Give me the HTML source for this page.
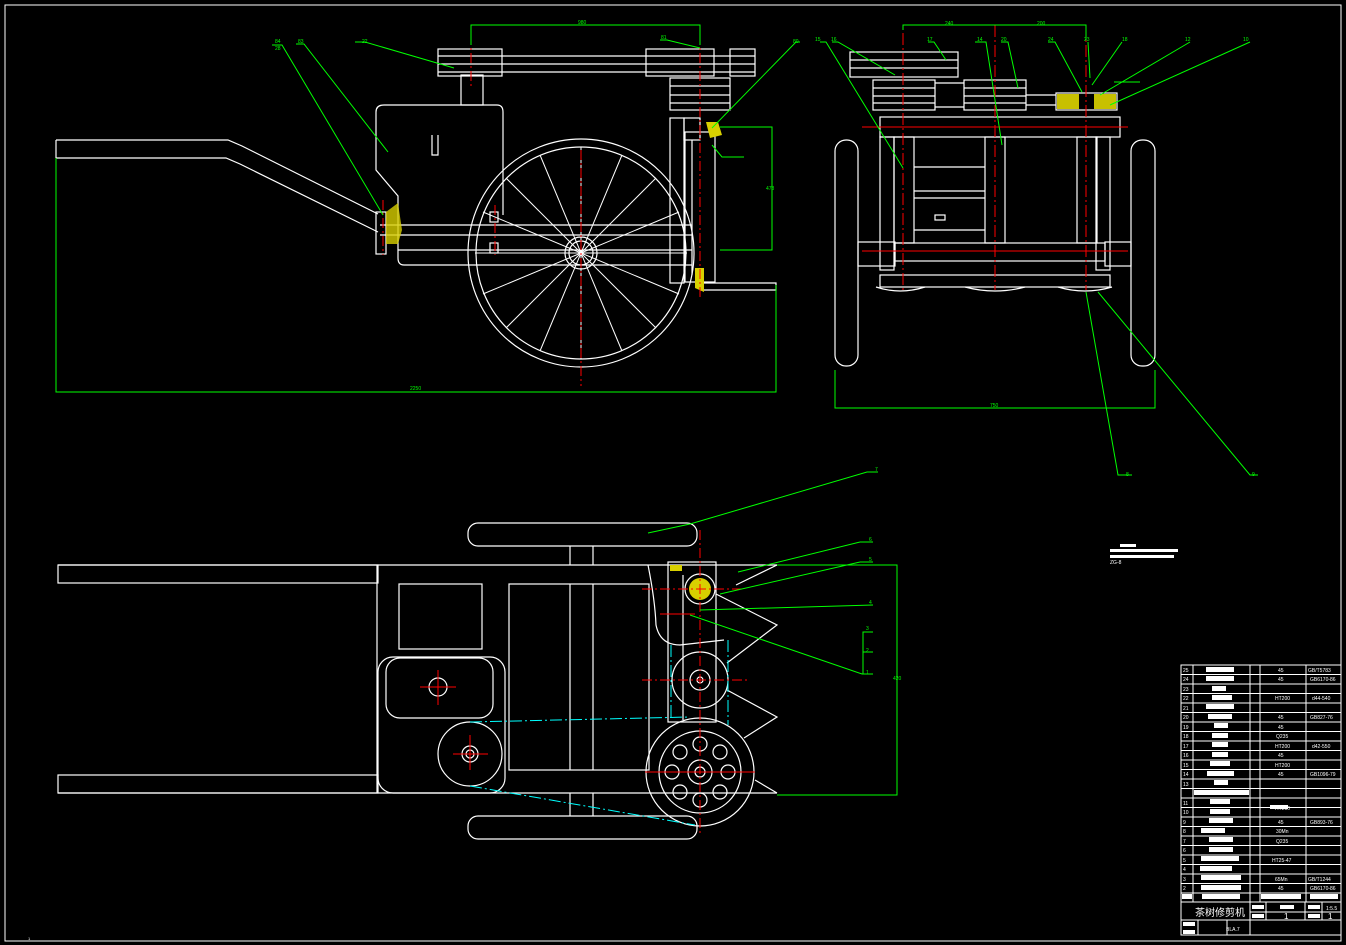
<!DOCTYPE html>
<html><head><meta charset="utf-8"><style>
html,body{margin:0;padding:0;background:#000;width:1346px;height:945px;overflow:hidden}
svg{display:block}
text{font-family:"Liberation Sans","Noto Sans CJK SC",sans-serif}
</style></head><body>
<svg width="1346" height="945" viewBox="0 0 1346 945" xmlns="http://www.w3.org/2000/svg">
<rect x="0" y="0" width="1346" height="945" fill="#000"/>
<rect x="5" y="5" width="1336" height="936" fill="none" stroke="#fff" stroke-width="1"/>

<!-- ===== SIDE VIEW ===== -->
<g fill="none" stroke="#fff" stroke-width="1.2">
<!-- handle -->
<path d="M56,140 L228,140 L242,146 L378,214"/>
<path d="M56,158 L226,158 L240,164 L378,232"/>
<line x1="56" y1="140" x2="56" y2="158"/>
<!-- engine -->
<path d="M384,105 L497,105 Q503,105 503,112 L503,215"/>
<path d="M384,105 Q376,105 376,112 L376,170 L398,196 L398,258 Q398,265 404,265 L470,265"/>
<rect x="461" y="75" width="22" height="30"/>
<path d="M432,135 L432,155 L438,155 L438,135" />
<!-- belt / pulleys -->
<rect x="438" y="49" width="64" height="27"/>
<line x1="438" y1="56" x2="755" y2="56"/>
<line x1="438" y1="64" x2="755" y2="64"/>
<line x1="438" y1="72" x2="755" y2="72"/>
<rect x="646" y="49" width="68" height="27"/>
<rect x="730" y="49" width="25" height="27"/>
<rect x="670" y="78" width="60" height="32"/>
<line x1="670" y1="86" x2="730" y2="86"/><line x1="670" y1="95" x2="730" y2="95"/><line x1="670" y1="103" x2="730" y2="103"/>
<!-- right frame -->
<rect x="670" y="118" width="14" height="165"/>
<rect x="685" y="132" width="30" height="150"/>
<line x1="692" y1="140" x2="692" y2="275"/>
<rect x="684" y="118" width="16" height="22"/>
<path d="M700,283 L776,283 L776,290 L700,290"/>
<!-- horizontal frame bars -->
<line x1="380" y1="225" x2="692" y2="225"/>
<line x1="380" y1="235" x2="692" y2="235"/>
<line x1="398" y1="250" x2="692" y2="250"/>
<line x1="470" y1="265" x2="692" y2="265"/>
<rect x="376" y="212" width="10" height="42"/>
<rect x="490" y="212" width="8" height="10"/><rect x="490" y="243" width="8" height="10"/>
<!-- wheel -->
<ellipse cx="581" cy="253" rx="113" ry="114"/>
<ellipse cx="581" cy="253" rx="105" ry="106"/>
<circle cx="581" cy="253" r="16"/><circle cx="581" cy="253" r="12"/>
</g>
<g stroke="#fff" stroke-width="1">
<line x1="581" y1="147" x2="581" y2="359"/><line x1="475" y1="253" x2="687" y2="253"/>
<line x1="506" y1="178" x2="656" y2="328"/><line x1="506" y1="328" x2="656" y2="178"/>
<line x1="540" y1="155" x2="622" y2="351"/><line x1="622" y1="155" x2="540" y2="351"/>
<line x1="483" y1="212" x2="679" y2="294"/><line x1="483" y1="294" x2="679" y2="212"/>
</g>
<polygon points="386,212 398,203 402,230 398,244 386,244" fill="#d8d000" opacity="0.8"/>
<polygon points="706,122 718,122 722,135 710,138" fill="#d8d000"/>
<polygon points="695,268 704,268 704,292 695,288" fill="#d8d000"/>
<g stroke="#f00" stroke-width="1" stroke-dasharray="10,3,2,3">
<line x1="581" y1="150" x2="581" y2="386"/>
<line x1="471" y1="35" x2="471" y2="88"/>
<line x1="700" y1="35" x2="700" y2="300"/>
<line x1="383" y1="200" x2="383" y2="255"/>
<line x1="495" y1="205" x2="495" y2="255"/>
</g>
<g stroke="#0f0" stroke-width="1" fill="none">
<polyline points="56,158 56,392 776,392 776,285"/>
<polyline points="471,45 471,25 700,25 700,45"/>
<polyline points="720,127 772,127 772,250 720,250"/>
<polyline points="272,45 282,45 383,215"/>
<polyline points="296,44 304,44 388,152"/>
<polyline points="355,42 365,42 454,68"/>
<polyline points="660,40 667,40 700,48"/>
<polyline points="800,42 796,42 712,128"/>
<polyline points="712,145 722,157 744,157"/>
</g>
<g fill="#0f0" font-size="5">
<text x="275" y="43">84</text><text x="275" y="50">28</text><text x="298" y="43">83</text>
<text x="362" y="43">22</text><text x="661" y="39">81</text><text x="793" y="43">80</text>
<text x="578" y="24">980</text><text x="410" y="390">2250</text><text x="766" y="190">478</text>
</g>

<!-- ===== FRONT VIEW ===== -->
<g fill="none" stroke="#fff" stroke-width="1.2">
<rect x="835" y="140" width="23" height="226" rx="11"/>
<rect x="1131" y="140" width="24" height="226" rx="11"/>
<rect x="880" y="117" width="240" height="20"/>
<rect x="880" y="137" width="14" height="133"/>
<rect x="894" y="137" width="20" height="106"/>
<rect x="985" y="137" width="20" height="106"/>
<rect x="1077" y="137" width="20" height="106"/>
<rect x="1096" y="137" width="14" height="133"/>
<line x1="914" y1="167" x2="985" y2="167"/><line x1="914" y1="191" x2="985" y2="191"/><line x1="914" y1="198" x2="985" y2="198"/><line x1="914" y1="230" x2="985" y2="230"/>
<rect x="895" y="243" width="210" height="18"/>
<rect x="858" y="242" width="37" height="24"/><rect x="1105" y="242" width="26" height="24"/>
<rect x="880" y="275" width="230" height="12"/>
<path d="M876,287 Q900,295 925,287 M965,287 Q995,295 1025,287 M1058,287 Q1085,295 1112,287"/>
<rect x="850" y="52" width="108" height="25"/>
<line x1="850" y1="60" x2="958" y2="60"/><line x1="850" y1="68" x2="958" y2="68"/>
<rect x="873" y="80" width="62" height="30"/>
<line x1="873" y1="88" x2="935" y2="88"/><line x1="873" y1="96" x2="935" y2="96"/><line x1="873" y1="103" x2="935" y2="103"/>
<rect x="964" y="80" width="62" height="30"/>
<line x1="964" y1="88" x2="1026" y2="88"/><line x1="964" y1="96" x2="1026" y2="96"/><line x1="964" y1="103" x2="1026" y2="103"/>
<line x1="935" y1="83" x2="964" y2="83"/><line x1="935" y1="107" x2="964" y2="107"/>
<line x1="1026" y1="95" x2="1056" y2="95"/><line x1="1026" y1="105" x2="1056" y2="105"/>
<rect x="1056" y="93" width="61" height="17"/>
<rect x="935" y="215" width="10" height="5"/>
</g>
<rect x="1057" y="94" width="22" height="15" fill="#c8c000"/><rect x="1094" y="94" width="22" height="15" fill="#c8c000"/>
<g stroke="#f00" stroke-width="1">
<line x1="862" y1="127" x2="1128" y2="127"/><line x1="862" y1="251" x2="1128" y2="251"/>
<line x1="903" y1="33" x2="903" y2="290" stroke-dasharray="12,3,2,3"/>
<line x1="995" y1="25" x2="995" y2="290" stroke-dasharray="12,3,2,3"/>
<line x1="1086" y1="25" x2="1086" y2="290" stroke-dasharray="12,3,2,3"/>
</g>
<g stroke="#0f0" stroke-width="1" fill="none">
<polyline points="903,30 903,25 1086,25 1086,40"/>
<polyline points="835,370 835,408 1155,408 1155,370"/>
<polyline points="820,42 826,42 903,168"/>
<polyline points="832,42 838,42 895,75"/>
<polyline points="928,42 934,42 946,60"/>
<polyline points="975,42 986,42 1002,145"/>
<polyline points="1001,42 1008,42 1018,88"/>
<polyline points="1048,42 1055,42 1082,92"/>
<polyline points="1088,42 1090,78"/>
<polyline points="1122,42 1092,85"/>
<polyline points="1190,42 1100,95"/>
<polyline points="1250,42 1110,105"/>
<polyline points="1114,82 1140,82"/>
<polyline points="1086,292 1118,475 1132,475"/>
<polyline points="1098,292 1250,475 1258,475"/>
</g>
<g fill="#0f0" font-size="5">
<text x="945" y="25">240</text><text x="1037" y="25">200</text><text x="990" y="407">750</text>
<text x="815" y="41">15</text><text x="831" y="41">16</text><text x="927" y="41">17</text><text x="977" y="41">14</text>
<text x="1001" y="41">20</text><text x="1048" y="41">24</text><text x="1084" y="41">23</text><text x="1122" y="41">18</text>
<text x="1185" y="41">12</text><text x="1243" y="41">10</text><text x="1126" y="476">8</text><text x="1252" y="476">9</text>
</g>

<!-- ===== TOP VIEW ===== -->
<g fill="none" stroke="#fff" stroke-width="1.2">
<rect x="468" y="523" width="229" height="23" rx="10"/>
<rect x="468" y="816" width="229" height="23" rx="10"/>
<line x1="570" y1="546" x2="570" y2="565"/><line x1="593" y1="546" x2="593" y2="565"/>
<line x1="570" y1="793" x2="570" y2="816"/><line x1="593" y1="793" x2="593" y2="816"/>
<line x1="58" y1="565" x2="777" y2="565"/><line x1="58" y1="793" x2="777" y2="793"/>
<rect x="58" y="565" width="320" height="18"/><rect x="58" y="775" width="320" height="18"/>
<line x1="377" y1="565" x2="377" y2="793"/>
<rect x="399" y="584" width="83" height="65"/>
<rect x="509" y="584" width="140" height="186"/>
<line x1="570" y1="584" x2="570" y2="770"/><line x1="593" y1="584" x2="593" y2="770"/>
<rect x="378" y="657" width="127" height="136" rx="15"/>
<rect x="386" y="658" width="107" height="60" rx="14"/>
<circle cx="438" cy="687" r="9"/>
<circle cx="470" cy="754" r="32"/><circle cx="470" cy="754" r="8"/><circle cx="470" cy="754" r="4"/>
<path d="M648,565 Q655,600 656,625 Q660,645 680,645 L724,640"/>
<rect x="668" y="562" width="48" height="160"/>
<line x1="683" y1="575" x2="683" y2="720"/>
<circle cx="700" cy="589" r="15"/>
<circle cx="700" cy="680" r="28"/><circle cx="700" cy="680" r="10"/><circle cx="700" cy="680" r="3"/>
<circle cx="700" cy="772" r="54"/><circle cx="700" cy="772" r="41"/><circle cx="700" cy="772" r="12"/><circle cx="700" cy="772" r="5"/>
<circle cx="700" cy="744" r="7"/><circle cx="700" cy="800" r="7"/><circle cx="672" cy="772" r="7"/><circle cx="728" cy="772" r="7"/>
<circle cx="680" cy="752" r="7"/><circle cx="720" cy="752" r="7"/><circle cx="680" cy="792" r="7"/><circle cx="720" cy="792" r="7"/>
<polyline points="716,594 777,625 727,663"/>
<polyline points="727,690 777,717 744,738"/>
<polyline points="755,780 777,793"/>
<polyline points="736,585 777,565"/>
</g>
<circle cx="700" cy="589" r="11" fill="#d8d000"/>
<rect x="670" y="565" width="12" height="6" fill="#d8d000"/>
<g stroke="#0ff" stroke-width="1" stroke-dasharray="12,3,2,3" fill="none">
<line x1="470" y1="722" x2="690" y2="717"/><line x1="470" y1="786" x2="695" y2="825"/>
<line x1="671" y1="645" x2="671" y2="720"/><line x1="728" y1="640" x2="728" y2="725"/>
</g>
<g stroke="#f00" stroke-width="1">
<line x1="700" y1="530" x2="700" y2="835" stroke-dasharray="10,3,2,3"/>
<line x1="642" y1="589" x2="745" y2="589" stroke-dasharray="10,3,2,3"/>
<line x1="642" y1="680" x2="747" y2="680" stroke-dasharray="10,3,2,3"/>
<line x1="645" y1="772" x2="755" y2="772"/>
<line x1="420" y1="687" x2="456" y2="687"/><line x1="438" y1="670" x2="438" y2="705"/>
<line x1="453" y1="754" x2="488" y2="754"/><line x1="470" y1="735" x2="470" y2="770"/>
<line x1="660" y1="614" x2="695" y2="614"/>
</g>
<g stroke="#0f0" stroke-width="1" fill="none">
<polyline points="648,533 690,524 867,472 878,472"/>
<polyline points="738,572 860,542 873,542"/>
<polyline points="720,594 860,562 873,562"/>
<polyline points="700,610 873,605"/>
<polyline points="690,615 862,674 873,674"/>
<polyline points="873,632 863,632 863,674"/><line x1="863" y1="652" x2="873" y2="652"/>
<polyline points="777,565 897,565 897,795 777,795"/>
</g>
<g fill="#0f0" font-size="5">
<text x="875" y="471">7</text><text x="869" y="541">6</text><text x="869" y="561">5</text><text x="869" y="604">4</text>
<text x="866" y="630">3</text><text x="866" y="652">2</text><text x="866" y="674">1</text><text x="893" y="680">420</text>
</g>

<!-- small note -->
<rect x="1110" y="549" width="68" height="3" fill="#fff"/><rect x="1110" y="555" width="64" height="3" fill="#fff"/>
<rect x="1120" y="544" width="16" height="3" fill="#fff"/>
<text x="1110" y="564" fill="#fff" font-size="5">ZG-8</text>

<!-- ===== TABLE ===== -->
<g stroke="#fff" stroke-width="1" fill="none">
<rect x="1181" y="665" width="160" height="237"/>
<line x1="1193" y1="665" x2="1193" y2="902"/><line x1="1250" y1="665" x2="1250" y2="902"/>
<line x1="1260" y1="665" x2="1260" y2="902"/><line x1="1306" y1="665" x2="1306" y2="902"/>
<path d="M1181,674.5H1341M1181,684H1341M1181,693.5H1341M1181,703H1341M1181,712.5H1341M1181,722H1341M1181,731.5H1341M1181,741H1341M1181,750.5H1341M1181,760H1341M1181,769.5H1341M1181,779H1341M1181,788.5H1341M1181,798H1341M1181,807.5H1341M1181,817H1341M1181,826.5H1341M1181,836H1341M1181,845.5H1341M1181,855H1341M1181,864.5H1341M1181,874H1341M1181,883.5H1341M1181,893H1341"/>
<rect x="1181" y="902" width="160" height="33"/>
<line x1="1250" y1="902" x2="1250" y2="935"/><line x1="1181" y1="920" x2="1250" y2="920"/>
<line x1="1250" y1="912" x2="1341" y2="912"/><line x1="1250" y1="920" x2="1341" y2="920"/>
<line x1="1198" y1="920" x2="1198" y2="935"/><line x1="1227" y1="920" x2="1227" y2="935"/>
<line x1="1266" y1="902" x2="1266" y2="920"/><line x1="1305" y1="902" x2="1305" y2="920"/><line x1="1322" y1="902" x2="1322" y2="920"/>
</g>
<g fill="#fff">
<rect x="1206" y="667" width="28" height="5"/><rect x="1206" y="676" width="28" height="5"/><rect x="1212" y="686" width="14" height="5"/>
<rect x="1212" y="695" width="20" height="5"/><rect x="1206" y="704" width="28" height="5"/><rect x="1208" y="714" width="24" height="5"/>
<rect x="1214" y="723" width="14" height="5"/><rect x="1212" y="733" width="16" height="5"/><rect x="1212" y="742" width="16" height="5"/>
<rect x="1212" y="752" width="16" height="5"/><rect x="1210" y="761" width="20" height="5"/><rect x="1207" y="771" width="27" height="5"/>
<rect x="1214" y="780" width="14" height="5"/><rect x="1194" y="790" width="55" height="5"/><rect x="1210" y="799" width="20" height="5"/>
<rect x="1210" y="809" width="20" height="5"/><rect x="1209" y="818" width="24" height="5"/><rect x="1201" y="828" width="24" height="5"/>
<rect x="1209" y="837" width="24" height="5"/><rect x="1209" y="847" width="24" height="5"/><rect x="1201" y="856" width="38" height="5"/>
<rect x="1200" y="866" width="32" height="5"/><rect x="1201" y="875" width="40" height="5"/><rect x="1201" y="885" width="40" height="5"/>
<rect x="1202" y="894" width="38" height="5"/><rect x="1182" y="894" width="10" height="5"/><rect x="1261" y="894" width="40" height="5"/><rect x="1310" y="894" width="28" height="5"/>
<rect x="1270" y="805" width="18" height="4"/><rect x="1252" y="905" width="12" height="4"/><rect x="1280" y="905" width="14" height="4"/><rect x="1308" y="905" width="12" height="4"/>
<rect x="1252" y="914" width="12" height="4"/><rect x="1308" y="914" width="12" height="4"/><rect x="1183" y="922" width="12" height="4"/><rect x="1183" y="930" width="12" height="4"/>
</g>
<g fill="#fff" font-size="5">
<text x="1183" y="672">25</text><text x="1183" y="681">24</text><text x="1183" y="691">23</text><text x="1183" y="700">22</text><text x="1183" y="710">21</text><text x="1183" y="719">20</text><text x="1183" y="729">19</text><text x="1183" y="738">18</text><text x="1183" y="748">17</text><text x="1183" y="757">16</text><text x="1183" y="767">15</text><text x="1183" y="776">14</text><text x="1183" y="786">13</text><text x="1183" y="805">11</text><text x="1183" y="814">10</text><text x="1183" y="824">9</text><text x="1183" y="833">8</text><text x="1183" y="843">7</text><text x="1183" y="852">6</text><text x="1183" y="862">5</text><text x="1183" y="871">4</text><text x="1183" y="881">3</text><text x="1183" y="890">2</text><text x="1183" y="899">1</text>
<text x="1278" y="672">45</text><text x="1278" y="681">45</text><text x="1275" y="700">HT200</text><text x="1278" y="719">45</text><text x="1278" y="729">45</text><text x="1276" y="738">Q235</text><text x="1275" y="748">HT200</text><text x="1278" y="757">45</text><text x="1275" y="767">HT200</text><text x="1278" y="776">45</text><text x="1275" y="810">HT200</text><text x="1278" y="824">45</text><text x="1276" y="833">30Mn</text><text x="1276" y="843">Q235</text><text x="1272" y="862">HT25-47</text><text x="1275" y="881">65Mn</text><text x="1278" y="890">45</text>
<text x="1308" y="672">GB/T5783</text><text x="1310" y="681">GB6170-86</text><text x="1312" y="700">d44-540</text><text x="1310" y="719">GB827-76</text><text x="1312" y="748">d42-550</text><text x="1310" y="776">GB1096-79</text><text x="1310" y="824">GB893-76</text><text x="1308" y="881">GB/T1244</text><text x="1310" y="890">GB6170-86</text>
<text x="1226" y="931">BLA.7</text><text x="1326" y="910">1:5.5</text>
</g>
<text x="1195" y="916" fill="#fff" font-size="10" font-family="'Noto Sans CJK SC',sans-serif">茶树修剪机</text>
<text x="1284" y="919" fill="#fff" font-size="8">1</text><text x="1328" y="919" fill="#fff" font-size="8">1</text>
<text x="28" y="940" fill="#fff" font-size="4">1</text>
</svg>
</body></html>
